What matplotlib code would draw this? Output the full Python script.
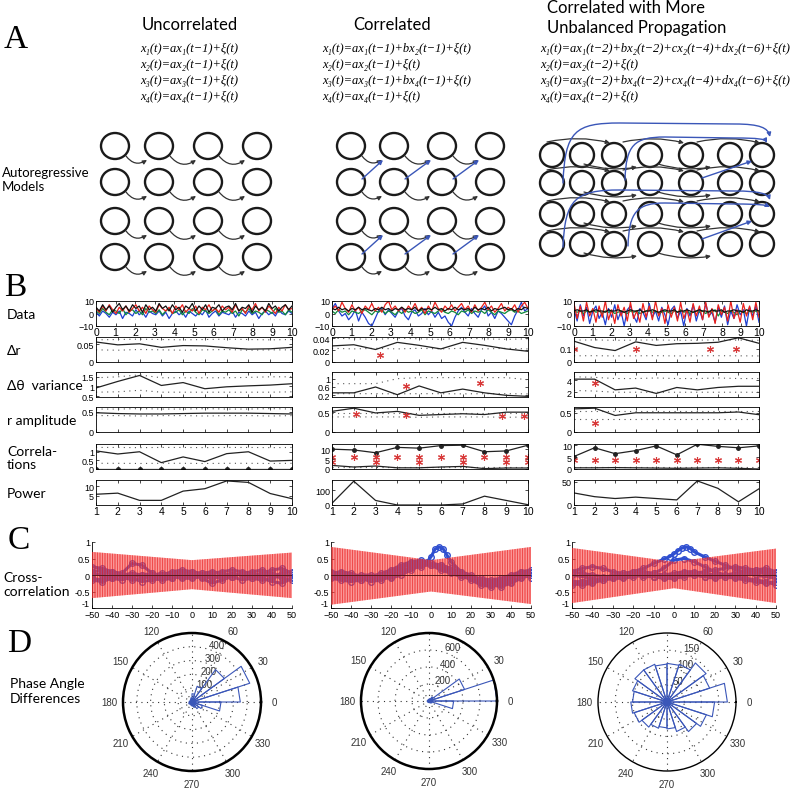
import numpy as np
import matplotlib
matplotlib.use('Agg')
import matplotlib.pyplot as plt
from matplotlib.patches import Ellipse, FancyArrowPatch
from matplotlib.path import Path

plt.rcParams['font.family'] = ['Liberation Sans', 'DejaVu Sans']
plt.rcParams['hatch.linewidth'] = 0.55

LABEL_FONT = ['Lato', 'DejaVu Sans']
SERIF = ['Liberation Serif', 'DejaVu Serif']
BLUE = '#3a56b8'

# ---------------- text ----------------
col_titles = ['Uncorrelated', 'Correlated', 'Correlated with More\nUnbalanced Propagation']
eq_uncorr = ['x₁(t)=ax₁(t−1)+ξ(t)', 'x₂(t)=ax₂(t−1)+ξ(t)',
             'x₃(t)=ax₃(t−1)+ξ(t)', 'x₄(t)=ax₄(t−1)+ξ(t)']
eq_corr = ['x₁(t)=ax₁(t−1)+bx₂(t−1)+ξ(t)', 'x₂(t)=ax₂(t−1)+ξ(t)',
           'x₃(t)=ax₃(t−1)+bx₄(t−1)+ξ(t)', 'x₄(t)=ax₄(t−1)+ξ(t)']
eq_unbal = ['x₁(t)=ax₁(t−2)+bx₂(t−2)+cx₂(t−4)+dx₂(t−6)+ξ(t)',
            'x₂(t)=ax₂(t−2)+ξ(t)',
            'x₃(t)=ax₃(t−2)+bx₄(t−2)+cx₄(t−4)+dx₄(t−6)+ξ(t)',
            'x₄(t)=ax₄(t−2)+ξ(t)']
b_row_labels = ['Data', 'Δr', 'Δθ  variance', 'r amplitude', 'Correla-\ntions', 'Power']

# ---------------- panel B data ----------------
t_data = np.linspace(0, 10, 60)
data_L = {
    'blue':  [1,-2,2,0,-3,1,-1,2,-4,1,0,-2,3,-1,1,-3,2,0,-1,2,-2,1,-4,0,2,-1,1,-3,2,0,
              -2,1,-1,3,-3,0,2,-2,1,0,-1,2,-3,1,0,-2,2,-1,1,-4,0,2,-1,1,-2,3,0,-1,2,0],
    'green': [2,0,4,1,-1,3,2,0,4,-1,2,3,0,2,-1,4,1,2,0,3,-1,2,4,0,1,3,-1,2,0,4,
              1,-1,3,2,0,2,4,-1,2,1,3,0,2,-2,3,1,4,0,2,1,-1,3,2,0,4,1,2,-1,3,1],
    'red':   [4,1,6,2,7,3,0,5,2,6,1,4,7,2,5,0,6,3,1,7,4,2,5,0,6,3,7,1,4,2,
              6,0,5,3,7,2,4,1,6,3,5,1,7,2,4,0,6,3,8,2,5,1,6,3,0,5,2,7,3,4],
    'black': [5,2,7,3,6,1,5,8,3,6,2,7,4,6,1,7,3,5,2,8,4,6,2,7,3,5,1,6,4,8,
              2,6,3,7,1,5,4,7,2,5,6,3,8,2,5,4,7,1,6,3,5,2,8,4,6,2,5,7,3,6],
}
data_M = {
    'blue':  [4,8,2,-2,0,-5,-2,3,-6,1,-3,-8,-10,-4,2,4,-1,3,0,-3,2,4,-2,-5,1,3,-2,0,4,-1,
              2,-3,1,-4,-2,-7,-10,-3,2,5,1,-2,4,0,-3,3,6,-2,1,-4,2,0,-3,-6,-9,-2,3,9,2,4],
    'green': [2,0,3,1,2,-1,2,1,0,2,3,1,-1,2,1,3,0,2,1,-1,2,0,3,1,2,0,1,3,-1,2,
              1,0,2,3,1,0,2,1,-1,2,1,3,0,2,1,2,0,3,1,-1,2,1,0,2,3,1,2,0,1,2],
    'red':   [3,6,2,9,4,1,7,2,5,0,6,3,8,2,5,1,7,10,3,6,2,5,1,6,3,8,2,5,0,6,
              2,9,4,1,6,3,7,2,5,8,3,6,1,7,2,5,9,3,6,1,4,8,2,5,3,7,1,6,9,4],
    'black': [4,3,5,3,4,2,4,3,5,3,4,3,2,4,3,5,3,4,2,4,3,5,3,4,3,5,2,4,3,4,
              3,5,3,4,2,4,3,5,3,4,3,4,2,5,3,4,3,5,2,4,3,4,5,3,4,2,4,3,5,4],
}
data_R = {
    'blue':  [3,-6,7,-2,5,-8,2,6,-4,1,-9,4,-3,7,-5,2,-10,3,6,-2,-7,4,1,-5,8,-3,2,-6,5,-1,
              -9,3,6,-4,2,-10,4,-2,7,-6,3,-5,8,-2,1,-7,5,-3,6,-9,2,-4,7,-1,3,-10,5,-2,6,-7],
    'green': [2,1,2,0,2,1,3,1,2,0,2,1,2,0,1,2,1,0,2,1,2,0,1,2,3,1,2,0,1,2,
              1,0,2,1,3,1,2,0,1,2,1,2,0,2,1,3,-2,2,1,0,2,1,-1,2,1,0,2,1,2,1],
    'red':   [8,-4,6,-6,9,-2,4,-7,6,-3,10,-5,3,-8,7,-2,5,-6,9,-4,2,-7,8,-3,6,-5,10,-2,4,-8,
              7,-3,5,-6,9,-4,3,-7,8,-2,6,-5,9,-3,4,-8,7,-1,5,-6,10,-4,3,-7,8,-2,6,-5,9,-3],
    'black': [2,3,2,2,3,1,2,3,2,2,1,3,2,2,3,2,1,2,3,2,2,3,1,2,2,3,2,1,2,3,
              2,2,3,1,2,2,3,2,1,2,3,2,2,1,3,2,2,3,1,2,2,3,2,2,1,3,2,2,3,2],
}
windows = np.arange(1, 11)

dr_L = [0.056, 0.048, 0.051, 0.041, 0.046, 0.045, 0.040, 0.036, 0.037, 0.041]
dr_hi_L = [0.062, 0.063, 0.064, 0.063, 0.062, 0.063, 0.064, 0.063, 0.062, 0.063]
dr_lo_L = [0.034, 0.033, 0.035, 0.034, 0.033, 0.034, 0.035, 0.033, 0.034, 0.034]
dr_M = [0.027, 0.029, 0.021, 0.033, 0.028, 0.022, 0.033, 0.028, 0.022, 0.018]
dr_hi_M = [0.040, 0.039, 0.038, 0.040, 0.039, 0.038, 0.040, 0.039, 0.038, 0.039]
dr_lo_M = [0.023, 0.022, 0.023, 0.022, 0.023, 0.022, 0.023, 0.022, 0.023, 0.022]
dr_R = [0.158, 0.110, 0.087, 0.153, 0.126, 0.139, 0.142, 0.150, 0.184, 0.142]
dr_hi_R = [0.166, 0.168, 0.165, 0.166, 0.168, 0.165, 0.166, 0.168, 0.166, 0.165]
dr_lo_R = [0.047, 0.048, 0.046, 0.047, 0.048, 0.046, 0.047, 0.048, 0.047, 0.046]
dr_star_L = ([], [])
dr_star_M = ([3.2], [0.012])
dr_star_R = ([1.0, 4.0, 7.6, 8.9], [0.1, 0.1, 0.1, 0.1])

dth_L = [0.92, 1.26, 1.57, 1.05, 1.20, 0.88, 0.98, 1.03, 1.07, 1.14]
dth_hi_L = [1.45, 1.50, 1.60, 1.45, 1.45, 1.45, 1.45, 1.47, 1.50, 1.50]
dth_lo_L = [0.70, 0.72, 0.80, 0.70, 0.70, 0.70, 0.70, 0.70, 0.70, 0.72]
dth_M = [0.32, 0.32, 0.60, 0.23, 0.65, 0.32, 0.50, 0.32, 0.20, 0.15]
dth_hi_M = [0.76, 0.76, 0.76, 1.00, 1.05, 1.05, 1.05, 1.05, 1.05, 0.95]
dth_lo_M = [0.28, 0.28, 0.28, 0.27, 0.28, 0.28, 0.27, 0.28, 0.28, 0.27]
dth_R = [4.2, 4.2, 2.4, 2.7, 1.8, 2.8, 2.4, 2.8, 3.0, 3.0]
dth_hi_R = [4.6, 4.5, 4.3, 4.3, 4.4, 4.3, 4.3, 4.4, 4.3, 4.3]
dth_lo_R = [2.3, 2.2, 2.0, 2.0, 2.0, 2.0, 2.0, 2.0, 2.0, 2.0]
dth_star_L = ([], [])
dth_star_M = ([4.4, 7.8], [0.65, 0.78])
dth_star_R = ([2.0], [3.6])

ramp_L = [0.47, 0.45, 0.44, 0.44, 0.45, 0.46, 0.46, 0.46, 0.45, 0.44]
ramp_hi_L = [0.56, 0.56, 0.57, 0.56, 0.56, 0.57, 0.56, 0.56, 0.57, 0.56]
ramp_lo_L = [0.40, 0.40, 0.39, 0.40, 0.40, 0.39, 0.40, 0.40, 0.39, 0.40]
ramp_M = [0.52, 0.60, 0.48, 0.52, 0.42, 0.44, 0.46, 0.44, 0.50, 0.50]
ramp_hi_M = [0.48, 0.48, 0.48, 0.48, 0.48, 0.48, 0.48, 0.48, 0.48, 0.48]
ramp_lo_M = [0.38, 0.38, 0.38, 0.38, 0.37, 0.38, 0.38, 0.38, 0.37, 0.38]
ramp_R = [0.60, 0.62, 0.43, 0.50, 0.50, 0.50, 0.50, 0.50, 0.52, 0.45]
ramp_hi_R = [0.54, 0.54, 0.54, 0.54, 0.54, 0.54, 0.54, 0.54, 0.54, 0.54]
ramp_lo_R = [0.34, 0.34, 0.34, 0.34, 0.34, 0.34, 0.34, 0.34, 0.34, 0.34]
ramp_star_L = ([], [])
ramp_star_M = ([2.1, 4.4, 8.8, 9.8], [0.46, 0.44, 0.40, 0.40])
ramp_star_R = ([2.0], [0.23])

corr_L = [1.05, 0.87, 1.00, 0.37, 0.70, 0.43, 0.89, 1.00, 0.46, 0.50]
corr_n_L = [0, 0, 0, 0, 0, 0, 0, 0, 0, 0]
corr_hi_L = [1.25, 1.25, 1.24, 1.25, 1.25, 1.24, 1.25, 1.25, 1.24, 1.25]
corr_lo_L = [0.33, 0.33, 0.32, 0.33, 0.33, 0.32, 0.33, 0.33, 0.32, 0.33]
corr_M = [1.8, 1.0, 1.5, 0.6, 0.6, 1.0, 1.3, 0.2, 0.5, 0.5]
corr_n_M = [10.0, 9.6, 8.2, 10.9, 10.5, 11.8, 12.0, 8.7, 9.1, 12.0]
corr_hi_M = [0.9, 0.9, 0.9, 0.9, 0.9, 0.9, 0.9, 0.9, 0.9, 0.9]
corr_lo_M = [0.1, 0.1, 0.1, 0.1, 0.1, 0.1, 0.1, 0.1, 0.1, 0.1]
corr_R = [0.5, 0.5, 0.6, 0.5, 0.4, 0.3, 0.4, 0.5, 0.3, 0.0]
corr_n_R = [5.3, 9.0, 6.5, 7.8, 9.8, 6.0, 10.5, 9.6, 9.0, 9.8]
corr_hi_R = [0.9, 0.9, 0.9, 0.9, 0.9, 0.9, 0.9, 0.9, 0.9, 0.9]
corr_lo_R = [0.1, 0.1, 0.1, 0.1, 0.1, 0.1, 0.1, 0.1, 0.1, 0.1]
corr_star_L = ([], [])
corr_star_M = ([1, 2, 3, 4, 5, 6, 7, 8, 9, 10, 1, 3, 5, 7, 9, 10],
               [6, 6, 6, 6, 6, 6, 6, 6, 6, 6, 3.5, 3.5, 3.5, 3.5, 3.5, 3.5])
corr_star_R = ([1, 2, 3, 4, 5, 6, 7, 8, 9, 10], [3.8] * 10)

power_L = [5.8, 6.4, 2.5, 2.5, 7.5, 8.8, 13.0, 12.2, 6.2, 3.4]
power_M = [12, 162, 31, 0, 0, 0, 7, 60, 31, 2]
power_R = [26, 18, 14, 17, 14, 11, 52, 36, 7, 35]

# ---------------- panel C data ----------------
lags = list(range(-50, 51, 5))
lags_peak = [-50, -45, -40, -35, -30, -25, -20, -15, -10, -5, -2, 0, 2, 4, 6, 8, 10,
             15, 20, 25, 30, 35, 40, 45, 50]
band_lags = [-50, 0, 50]
band_hi_L = [0.70, 0.45, 0.68]
band_lo_L = [-0.70, -0.43, -0.70]
band_hi_M = [0.85, 0.45, 0.85]
band_lo_M = [-0.90, -0.50, -0.88]
band_hi_R = [0.82, 0.40, 0.80]
band_lo_R = [-0.85, -0.40, -0.85]
xc_L = [
    [0.25, 0.20, 0.10, 0.05, 0.35, 0.30, 0.05, -0.05, 0.00, 0.10, 0.10, 0.05, -0.05, -0.10, -0.05, 0.05, 0.10, 0.15, 0.05, -0.05, 0.00],
    [0.05, 0.00, -0.10, -0.15, -0.05, 0.00, 0.05, -0.05, -0.10, 0.00, 0.05, -0.10, -0.25, -0.15, -0.05, 0.05, 0.00, -0.10, -0.20, -0.25, -0.10],
    [-0.10, -0.15, -0.05, 0.00, -0.10, -0.20, -0.15, -0.10, -0.05, -0.10, -0.10, -0.05, 0.05, 0.10, 0.15, 0.10, 0.05, 0.00, -0.05, 0.05, 0.10],
    [0.10, 0.15, 0.10, 0.00, 0.00, -0.05, -0.10, 0.00, 0.10, 0.15, 0.10, 0.00, -0.05, 0.00, 0.05, 0.00, -0.10, -0.15, -0.10, 0.00, -0.05],
    [0.00, 0.05, 0.05, -0.05, -0.15, -0.10, 0.00, 0.05, 0.00, -0.05, -0.05, 0.05, 0.10, 0.05, -0.05, -0.15, -0.10, 0.05, 0.15, 0.20, 0.05],
    [-0.15, -0.20, -0.10, 0.00, 0.05, 0.00, -0.10, -0.15, -0.10, 0.05, 0.00, -0.05, -0.10, -0.05, 0.00, 0.05, 0.00, 0.05, 0.00, -0.10, -0.15],
]
xc_M = [
    [0.10, 0.05, 0.00, -0.05, -0.10, -0.05, 0.05, 0.20, 0.35, 0.40, 0.35, 0.30, 0.20, 0.05, -0.10, -0.20, -0.25, -0.20, -0.05, 0.10, 0.15],
    [0.05, 0.00, -0.10, -0.15, -0.10, 0.00, 0.10, 0.25, 0.30, 0.35, 0.30, 0.25, 0.15, 0.00, -0.15, -0.30, -0.35, -0.25, -0.10, 0.05, 0.10],
    [-0.10, -0.15, -0.20, -0.15, -0.05, 0.05, 0.15, 0.30, 0.40, 0.45, 0.30, 0.15, 0.05, -0.05, -0.10, -0.10, -0.15, -0.10, 0.00, 0.10, -0.10],
    [0.05, 0.10, 0.05, -0.05, -0.10, -0.10, 0.00, 0.10, 0.20, 0.25, 0.35, 0.30, 0.20, 0.10, 0.00, -0.15, -0.20, -0.15, -0.05, 0.00, 0.05],
    [-0.05, -0.10, -0.10, -0.10, -0.20, -0.15, -0.05, 0.10, 0.25, 0.30, 0.30, 0.20, 0.10, 0.00, -0.10, -0.25, -0.30, -0.30, -0.20, -0.05, 0.10],
]
xc_peak_M = [0.00, -0.05, -0.05, 0.00, 0.00, -0.05, -0.10, 0.00, 0.15, 0.30, 0.40, 0.55, 0.78, 0.85,
             0.80, 0.60, 0.40, 0.10, -0.10, -0.20, -0.30, -0.35, -0.25, -0.10, 0.00]
xc_R = [
    [0.10, 0.20, 0.25, 0.20, 0.10, 0.05, 0.00, -0.05, -0.05, 0.00, 0.05, 0.10, 0.10, 0.05, 0.00, -0.05, -0.10, -0.15, -0.20, -0.25, -0.20],
    [-0.30, -0.25, -0.20, -0.10, 0.00, 0.05, 0.10, 0.10, 0.05, 0.00, -0.05, 0.00, 0.05, 0.10, 0.15, 0.20, 0.25, 0.20, 0.15, 0.10, 0.05],
    [0.00, -0.05, -0.10, -0.15, -0.10, -0.05, 0.00, 0.00, -0.05, -0.10, -0.10, -0.05, 0.00, -0.05, -0.10, -0.05, 0.00, 0.05, 0.10, 0.05, 0.00],
    [-0.25, -0.30, -0.25, -0.15, -0.10, -0.10, -0.05, 0.00, 0.05, 0.20, 0.45, 0.50, 0.40, 0.25, 0.10, 0.00, -0.05, -0.10, -0.15, -0.20, -0.30],
    [0.10, 0.05, 0.00, -0.05, -0.05, 0.00, 0.05, 0.00, -0.05, -0.05, 0.00, 0.05, 0.00, -0.05, -0.05, 0.00, 0.05, 0.10, 0.15, 0.20, 0.10],
]
xc_peak_R = [-0.20, -0.20, -0.15, -0.10, -0.05, 0.00, 0.10, 0.20, 0.35, 0.48, 0.56, 0.64, 0.74, 0.82,
             0.85, 0.80, 0.70, 0.55, 0.42, 0.30, 0.18, 0.08, 0.00, -0.05, -0.10]

# ---------------- panel D data (rose counts, 20 bins of 18 deg) ----------------
rose_L = [350, 440, 290, 120, 60, 30, 20, 15, 15, 20, 20, 25, 20, 20, 25, 30, 40, 60, 80, 210]
rose_M = [800, 440, 60, 30, 20, 20, 15, 15, 15, 20, 20, 20, 15, 15, 15, 20, 20, 30, 40, 290]
rose_R = [175, 130, 140, 115, 112, 110, 115, 115, 105, 100, 105, 100, 90, 80, 75, 78, 90, 106, 120, 138]
rose_rmax = [500, 800, 200]
rose_rticks = [[100, 200, 300, 400], [200, 400, 600], [50, 100, 150]]
theta_labels = ['0', '30', '60', '', '120', '150', '180', '210', '240', '270', '300', '330']

# ---------------- figure ----------------
W, H = 800, 804
fig = plt.figure(figsize=(8, 8.04), dpi=100)


def ax_px(x0, y0, x1, y1, **kw):
    return fig.add_axes([x0 / W, 1 - y1 / H, (x1 - x0) / W, (y1 - y0) / H], **kw)


ov = ax_px(0, 0, W, H)
ov.set_xlim(0, W)
ov.set_ylim(H, 0)
ov.axis('off')

for letter, (x, y) in zip('ABCD', [(16, 40), (15, 288), (19, 541), (19, 644)]):
    ov.text(x, y, letter, fontsize=24, family=SERIF, ha='center', va='center')

ov.text(190, 25, col_titles[0], fontsize=12, family=LABEL_FONT, ha='center', va='center')
ov.text(392, 25, col_titles[1], fontsize=12, family=LABEL_FONT, ha='center', va='center')
ov.text(547, 18, col_titles[2], fontsize=12, family=LABEL_FONT, ha='left', va='center', linespacing=1.3)

eq_rows = [49, 65, 81, 97]
for eqs, x0, fs in [(eq_uncorr, 140, 9), (eq_corr, 322, 9), (eq_unbal, 540, 9)]:
    for e, y in zip(eqs, eq_rows):
        ov.text(x0, y, e, fontsize=fs, family=SERIF, style='italic', ha='left', va='center')

ov.text(2, 180, 'Autoregressive\nModels', fontsize=9.5, family=LABEL_FONT, ha='left', va='center', linespacing=1.2)

rows12 = [147, 183, 222, 258]
cols1 = [115, 159, 208, 257]
cols2 = [351, 394, 442, 490]
for cx_list in (cols1, cols2):
    for cy in rows12:
        for i, cx in enumerate(cx_list):
            ov.add_patch(Ellipse((cx, cy), 28, 26, fill=False, lw=1.7, ec='#1a1a1a'))
            if i < 3:
                ov.add_patch(FancyArrowPatch((cx + 11, cy + 10), (cx_list[i + 1] - 12, cy + 14),
                                             connectionstyle='arc3,rad=0.45', arrowstyle='-|>',
                                             mutation_scale=6, lw=0.9, color='#333',
                                             shrinkA=0, shrinkB=0))
for r_from, r_to in [(1, 0), (3, 2)]:
    for i in range(3):
        ov.add_patch(FancyArrowPatch((cols2[i] + 11, rows12[r_from] - 3),
                                     (cols2[i + 1] - 11, rows12[r_to] + 14),
                                     arrowstyle='-|>', mutation_scale=6, lw=1.0, color=BLUE,
                                     shrinkA=0, shrinkB=0))

rows3 = [156, 184, 215, 245]
cols3 = [552, 582, 614, 650, 691, 730, 762]
for cy in rows3:
    for cx in cols3:
        ov.add_patch(Ellipse((cx, cy), 24, 24, fill=False, lw=1.7, ec='#1a1a1a'))
    for xa, xb in [(547, 610), (623, 684), (697, 760)]:
        ov.add_patch(FancyArrowPatch((xa, cy - 13), (xb, cy - 12), connectionstyle='arc3,rad=-0.12',
                                     arrowstyle='-|>', mutation_scale=6, lw=0.9, color='#333',
                                     shrinkA=0, shrinkB=0))
    for xa, xb in [(584, 637), (658, 711)]:
        ov.add_patch(FancyArrowPatch((xa, cy + 9), (xb, cy + 12), connectionstyle='arc3,rad=0.12',
                                     arrowstyle='-|>', mutation_scale=6, lw=0.9, color='#333',
                                     shrinkA=0, shrinkB=0))
M, C4, L = Path.MOVETO, Path.CURVE4, Path.LINETO
blue_paths = [
    [(563, 184), (565, 132), (575, 124), (620, 124), (735, 125), (760, 125), (768, 129), (770, 138)],
    [(625, 181), (626, 146), (634, 138), (665, 138), (735, 139), (758, 139), (765, 140), (767, 144)],
    [(563, 248), (565, 200), (575, 191), (620, 191), (735, 192), (760, 192), (768, 195), (770, 201)],
    [(628, 247), (629, 213), (637, 204), (665, 204), (735, 205), (758, 205), (766, 206), (770, 208)],
]
for v in blue_paths:
    ov.add_patch(FancyArrowPatch(path=Path(v, [M, C4, C4, C4, L, C4, C4, C4]), arrowstyle='-|>',
                                 mutation_scale=6, lw=1.0, color=BLUE))
for (xa, ya), (xb, yb) in [((702, 179), (752, 162)), ((702, 240), (752, 222))]:
    ov.add_patch(FancyArrowPatch((xa, ya), (xb, yb), arrowstyle='-|>', mutation_scale=6, lw=1.0,
                                 color=BLUE, shrinkA=0, shrinkB=0))

# ---------------- panel B ----------------
B_X = [(96, 292), (332, 528), (574, 759)]
B_TOPS = [302, 338, 373, 408, 445, 481]
B_H = 25
for lbl, top in zip(b_row_labels, B_TOPS):
    ov.text(7, top + B_H / 2 + 1, lbl, fontsize=10, family=LABEL_FONT, ha='left', va='center',
            linespacing=1.15)

cols_B = [
    dict(data=data_L, dr=(dr_L, dr_hi_L, dr_lo_L, dr_star_L, (0, 0.07), [0, 0.05]),
         dth=(dth_L, dth_hi_L, dth_lo_L, dth_star_L, (0.45, 1.75), [0.5, 1, 1.5]),
         ramp=(ramp_L, ramp_hi_L, ramp_lo_L, ramp_star_L, (0, 0.61), [0, 0.5]),
         corr=(corr_L, corr_n_L, corr_hi_L, corr_lo_L, corr_star_L, (0, 1.45), [0, 0.5, 1]),
         power=(power_L, (0, 13.5), [5, 10])),
    dict(data=data_M, dr=(dr_M, dr_hi_M, dr_lo_M, dr_star_M, (0, 0.042), [0, 0.02, 0.04]),
         dth=(dth_M, dth_hi_M, dth_lo_M, dth_star_M, (0.12, 1.32), [0.2, 0.6, 1]),
         ramp=(ramp_M, ramp_hi_M, ramp_lo_M, ramp_star_M, (0, 0.63), [0, 0.5]),
         corr=(corr_M, corr_n_M, corr_hi_M, corr_lo_M, corr_star_M, (0, 12.6), [0, 5, 10]),
         power=(power_M, (0, 170), [0, 100])),
    dict(data=data_R, dr=(dr_R, dr_hi_R, dr_lo_R, dr_star_R, (0, 0.19), [0, 0.1]),
         dth=(dth_R, dth_hi_R, dth_lo_R, dth_star_R, (1.2, 5.4), [2, 4]),
         ramp=(ramp_R, ramp_hi_R, ramp_lo_R, ramp_star_R, (0, 0.65), [0, 0.5]),
         corr=(corr_R, corr_n_R, corr_hi_R, corr_lo_R, corr_star_R, (0, 10.6), [0, 5, 10]),
         power=(power_R, (0, 54), [0, 50])),
]
series_colors = {'blue': '#1f3fd0', 'green': '#0f8a3c', 'red': '#e8201c', 'black': '#111111'}
DOT = dict(color='#555555', lw=0.8, ls=(0, (1, 4)))
STAR = dict(ls='none', marker=(6, 2, 0), ms=5, mew=0.8, color='#d83a3a')


def style_b(ax):
    ax.tick_params(direction='in', length=2, width=0.5, labelsize=6.5, top=True, right=True, pad=1.5)
    for s in ax.spines.values():
        s.set_linewidth(0.6)


for (x0, x1), cb in zip(B_X, cols_B):
    ax = ax_px(x0, B_TOPS[0], x1, B_TOPS[0] + B_H)
    for k in ['blue', 'green', 'red', 'black']:
        ax.plot(t_data, cb['data'][k], color=series_colors[k], lw=0.9)
    ax.set_xlim(0, 10)
    ax.set_ylim(-10, 10)
    ax.set_xticks(range(11))
    ax.set_yticks([-10, 0, 10])
    style_b(ax)
    ax.tick_params(axis='x', labelsize=7.5, pad=1)
    for key, top in [('dr', B_TOPS[1]), ('dth', B_TOPS[2]), ('ramp', B_TOPS[3])]:
        vals, hi, lo, star, ylim, yt = cb[key]
        ax = ax_px(x0, top, x1, top + B_H)
        ax.plot(windows, hi, **DOT)
        ax.plot(windows, lo, **DOT)
        ax.plot(windows, vals, color='#222', lw=0.9)
        ax.plot(star[0], star[1], **STAR)
        ax.set_xlim(1, 10)
        ax.set_ylim(*ylim)
        ax.set_xticks(windows)
        ax.set_xticklabels([])
        ax.set_yticks(yt)
        ax.set_yticklabels([('%g' % v) for v in yt])
        style_b(ax)
    vals, nvals, hi, lo, star, ylim, yt = cb['corr']
    ax = ax_px(x0, B_TOPS[4], x1, B_TOPS[4] + B_H)
    ax.plot(windows, hi, **DOT)
    ax.plot(windows, lo, **DOT)
    ax.plot(windows, vals, color='#222', lw=0.9)
    ax.plot(windows, nvals, color='#222', lw=0.9, marker='.', ms=5)
    ax.plot(star[0], star[1], **STAR)
    ax.set_xlim(1, 10)
    ax.set_ylim(*ylim)
    ax.set_xticks(windows)
    ax.set_xticklabels([])
    ax.set_yticks(yt)
    ax.set_yticklabels([('%g' % v) for v in yt])
    style_b(ax)
    pvals, ylim, yt = cb['power']
    ax = ax_px(x0, B_TOPS[5], x1, B_TOPS[5] + B_H)
    ax.plot(windows, pvals, color='#222', lw=0.9)
    ax.set_xlim(1, 10)
    ax.set_ylim(*ylim)
    ax.set_xticks(windows)
    ax.set_yticks(yt)
    style_b(ax)
    ax.tick_params(axis='x', labelsize=7.5, pad=1)

# ---------------- panel C ----------------
ov.text(3, 585, 'Cross-\ncorrelation', fontsize=10, family=LABEL_FONT, ha='left', va='center', linespacing=1.2)
C_X = [(92, 292), (331, 531), (572, 776)]
C_Y = (543, 609)
C_LINE = dict(color='#2f4fd0', lw=2.2, marker='o', ms=4, mfc='none', mew=1.0, zorder=2)
for (x0, x1), curves, peak, bhi, blo in zip(C_X, [xc_L, xc_M, xc_R], [None, xc_peak_M, xc_peak_R],
                                            [band_hi_L, band_hi_M, band_hi_R],
                                            [band_lo_L, band_lo_M, band_lo_R]):
    ax = ax_px(x0, C_Y[0], x1, C_Y[1])
    for cv in curves:
        ax.plot(lags, cv, **C_LINE)
    if peak is not None:
        ax.plot(lags_peak, peak, **C_LINE)
    ax.fill_between(band_lags, blo, bhi, facecolor=(1.0, 0.40, 0.40, 0.50),
                    edgecolor=(0.9, 0.05, 0.05, 0.8), hatch='||||||||||', lw=0, zorder=3)
    ax.axhline(0, color='#5a1a1a', lw=0.7, zorder=4)
    ax.set_xlim(-50, 50)
    ax.set_ylim(-1, 1)
    ax.set_xticks(range(-50, 51, 10))
    ax.set_yticks([-1, -0.5, 0, 0.5, 1])
    ax.set_yticklabels(['-1', '-0.5', '0', '0.5', '1'])
    ax.get_yticklabels()[0].set_va('bottom')
    ax.spines['top'].set_visible(False)
    ax.spines['right'].set_visible(False)
    for s in ('left', 'bottom'):
        ax.spines[s].set_linewidth(0.6)
    ax.tick_params(direction='in', length=2, width=0.5, labelsize=6.5, pad=1.5)
    ax.tick_params(axis='x', pad=1.5)
    ax.patch.set_visible(False)

# ---------------- panel D ----------------
ov.text(10, 692, 'Phase Angle\nDifferences', fontsize=10, family=LABEL_FONT, ha='left', va='center', linespacing=1.3)
D_C = [(192, 703, 69), (429, 702, 68), (667, 703, 69)]
for (cx, cy, r), counts, rmax, rt, lwspine in zip(D_C, [rose_L, rose_M, rose_R], rose_rmax,
                                                  rose_rticks, [1.8, 1.8, 1.0]):
    ax = ax_px(cx - r, cy - r, cx + r, cy + r, projection='polar')
    n = len(counts)
    edges = np.deg2rad(np.arange(n + 1) * 360.0 / n)
    for i, c in enumerate(counts):
        ax.plot([0, edges[i], edges[i + 1], 0], [0, c, c, 0], color=BLUE, lw=0.8)
    ax.set_ylim(0, rmax)
    ax.set_yticks(rt)
    ax.set_yticklabels([str(v) for v in rt])
    ax.set_rlabel_position(72)
    ax.set_thetagrids(np.arange(0, 360, 30), theta_labels)
    ax.grid(True, color='#333', lw=0.8, ls=(0, (1, 4)))
    ax.spines['polar'].set_linewidth(lwspine)
    ax.tick_params(axis='x', labelsize=7, pad=-1, colors='#333')
    ax.tick_params(axis='y', labelsize=7, colors='#333')

fig.savefig('out.png', dpi=100)
